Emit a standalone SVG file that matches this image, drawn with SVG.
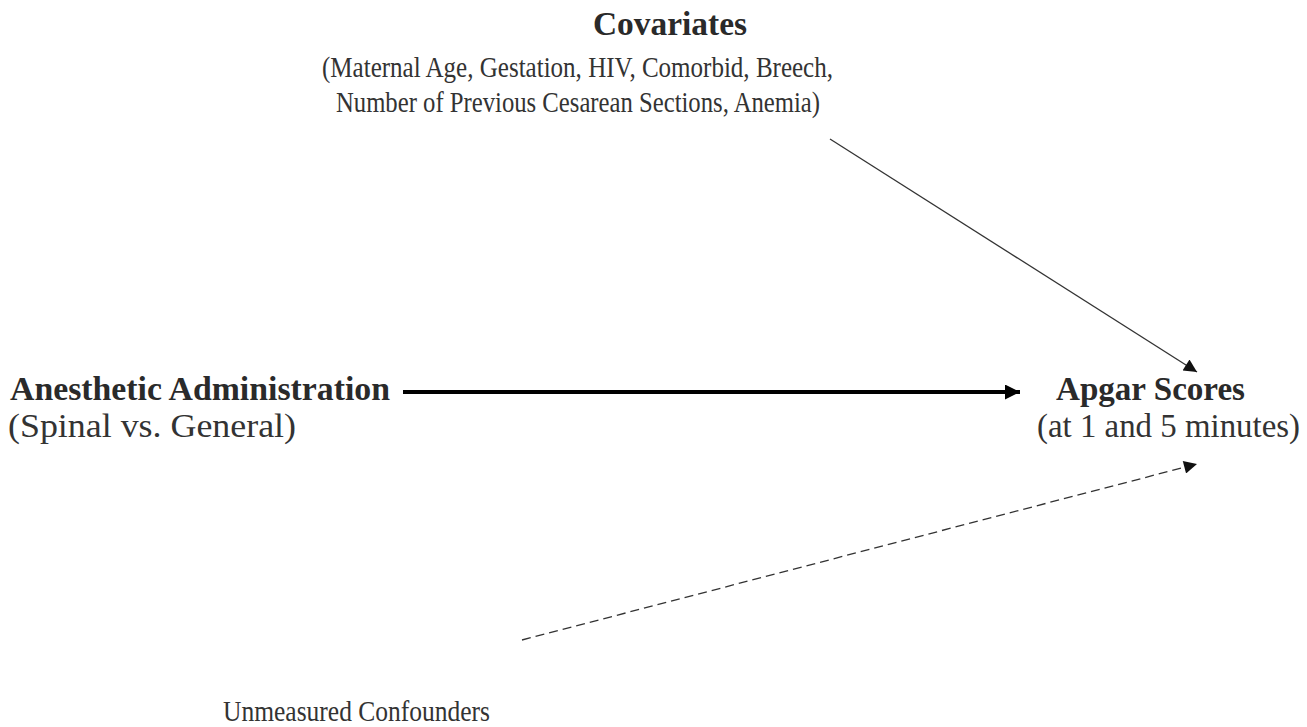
<svg xmlns="http://www.w3.org/2000/svg" width="1307" height="727" viewBox="0 0 1307 727">
<style>
text{font-family:"Liberation Serif","Times New Roman",serif;font-size:33px;fill:#333}
.b{font-weight:bold;fill:#2a2a2a}
.s{font-size:29px}
.thin{stroke:#333;stroke-width:1.3;fill:none}
</style>
<defs>
<marker id="ah" viewBox="0 0 10 10" refX="10" refY="5" markerWidth="16" markerHeight="13" markerUnits="userSpaceOnUse" orient="auto"><path d="M0,0 L10,5 L0,10 Z" fill="#111"/></marker>
<marker id="ah2" viewBox="0 0 10 10" refX="10" refY="5" markerWidth="19" markerHeight="15" markerUnits="userSpaceOnUse" orient="auto"><path d="M0,0 L10,5 L0,10 Z" fill="#000"/></marker>
</defs>
<rect width="1307" height="727" fill="#fff"/>
<g id="covariates">
<text class="b" x="593" y="35" textLength="154" lengthAdjust="spacingAndGlyphs">Covariates</text>
<text class="s" x="322" y="77" textLength="511" lengthAdjust="spacingAndGlyphs">(Maternal Age, Gestation, HIV, Comorbid, Breech,</text>
<text class="s" x="336" y="112" textLength="484" lengthAdjust="spacingAndGlyphs">Number of Previous Cesarean Sections, Anemia)</text>
</g>
<g id="exposure">
<text class="b" x="10" y="400" textLength="380" lengthAdjust="spacingAndGlyphs">Anesthetic Administration</text>
<text x="8" y="437" textLength="288" lengthAdjust="spacingAndGlyphs">(Spinal vs. General)</text>
</g>
<g id="outcome">
<text class="b" x="1056" y="400" textLength="189" lengthAdjust="spacingAndGlyphs">Apgar Scores</text>
<text x="1037" y="437" textLength="263" lengthAdjust="spacingAndGlyphs">(at 1 and 5 minutes)</text>
</g>
<g id="unmeasured">
<text class="s" x="223" y="721" textLength="267" lengthAdjust="spacingAndGlyphs">Unmeasured Confounders</text>
</g>
<g id="connectors">
<line x1="403" y1="392" x2="1020" y2="392" stroke="#000" stroke-width="4" marker-end="url(#ah2)"/>
<line class="thin" x1="830" y1="139" x2="1197" y2="372" marker-end="url(#ah)"/>
<line class="thin" x1="522" y1="640" x2="1197" y2="464" stroke-dasharray="9,5" marker-end="url(#ah)"/>
</g>
</svg>
